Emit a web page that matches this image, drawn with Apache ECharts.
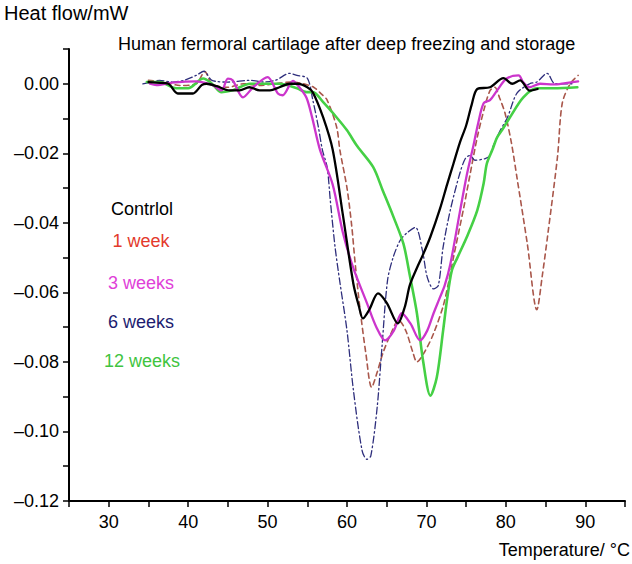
<!DOCTYPE html>
<html>
<head>
<meta charset="utf-8">
<script src="https://cdn.jsdelivr.net/npm/echarts@6/dist/echarts.min.js"></script>
<style>
html,body{margin:0;padding:0;background:#fff;}
#chart{width:632px;height:564px;}
</style>
</head>
<body>
<div id="chart"></div>
<script>
// ---- data (temperature °C / heat flow mW) ----
var controlT = [35, 36, 37.5, 38.7, 40.6, 41.7, 42.3, 43.6, 45.2, 46.5, 47.7, 49, 50.3, 51.5, 52.8, 53.8, 55, 55.7, 57, 58.2, 59.5, 60.8, 61.5, 62, 62.8, 63.9, 65, 66.4, 67.3, 67.9, 68.8, 69.6, 70.5, 71.7, 72.6, 73.4, 74.2, 75, 75.7, 76.4, 78, 79.7, 80.8, 81.8, 83, 84];
var controlH = [0.0005, 0.0003, 0, -0.0028, -0.0028, -0.0004, 0, -0.0007, -0.0019, -0.0019, -0.001, -0.0019, -0.0019, -0.001, 0, 0, -0.001, -0.0025, -0.0097, -0.019, -0.038, -0.0575, -0.064, -0.0675, -0.065, -0.0603, -0.063, -0.0689, -0.064, -0.058, -0.053, -0.049, -0.044, -0.036, -0.029, -0.023, -0.017, -0.012, -0.006, -0.0015, -0.001, 0.0016, 0, 0.001, -0.002, -0.0015];

var week1T = [35, 37, 39, 41, 42.1, 43, 45, 47, 49, 51, 53, 54.5, 55.8, 56.8, 57.5, 58.7, 59.1, 60, 60.6, 61, 61.6, 62.4, 63.1, 63.8, 64.5, 65.5, 66.5, 67.4, 68.3, 68.8, 69.8, 70.9, 72.1, 72.8, 73.4, 74.7, 75.5, 76.4, 77.3, 78.0, 78.6, 79.2, 79.9, 80.7, 81.4, 82.7, 83.9, 84.6, 85.3, 86.5, 87.1, 88.1, 89.1];
var week1H = [0.001, 0.0005, -0.0005, 0, 0.0035, 0, -0.001, 0, -0.0005, 0, 0.0005, 0, -0.001, -0.003, -0.0047, -0.0125, -0.019, -0.030, -0.041, -0.051, -0.064, -0.078, -0.0873, -0.083, -0.0776, -0.072, -0.068, -0.071, -0.0773, -0.080, -0.077, -0.0718, -0.064, -0.057, -0.050, -0.0356, -0.026, -0.0154, -0.007, -0.002, -0.001, -0.004, -0.0085, -0.017, -0.027, -0.046, -0.065, -0.055, -0.043, -0.021, -0.0056, 0, 0.0024];

var week3T = [35.2, 36, 38, 41, 42, 43.1, 44.2, 45, 45.6, 46.9, 48.2, 50, 51.3, 51.9, 53.2, 54, 54.9, 55.6, 56.6, 58.2, 59.5, 60.8, 62.5, 63.7, 64.8, 65.9, 66.9, 68, 69.2, 70.1, 70.9, 71.6, 72.3, 73, 74.2, 75.1, 75.9, 76.5, 77.2, 78, 78.9, 80.1, 81.6, 82.2, 83, 84.3, 86, 87.5, 89.1];
var week3H = [0, -0.0004, 0.0003, 0.0007, 0.0003, -0.0004, -0.0019, 0.0015, 0.0010, -0.0039, -0.001, 0.0019, -0.0028, -0.0033, 0.0008, -0.001, -0.004, -0.0096, -0.019, -0.029, -0.043, -0.053, -0.063, -0.070, -0.0738, -0.071, -0.066, -0.069, -0.0738, -0.071, -0.066, -0.062, -0.058, -0.052, -0.037, -0.026, -0.018, -0.0115, -0.0056, -0.0047, -0.0019, 0.0015, 0.0024, 0.0004, -0.001, 0, -0.0002, 0.0002, 0.0007];

var week6T = [34.3, 35.5, 36.4, 38, 39.5, 41, 42, 43, 45, 47.9, 49.5, 51, 52.8, 53.7, 55, 55.7, 56.4, 56.9, 57.5, 57.9, 58.5, 59.1, 60, 60.8, 61.9, 62.5, 63, 63.8, 64.4, 65.1, 65.8, 66.7, 67.5, 68.6, 69.5, 70.1, 70.9, 71.5, 72.1, 73, 74.2, 74.9, 75.5, 76.1, 77.4, 78, 78.4, 79.3, 80.2, 81.4, 83, 83.9, 85.2, 86.2, 88.4];
var week6H = [0, 0.0005, 0.001, 0.0005, 0.001, 0.0024, 0.0036, 0.001, 0.0005, 0.001, 0.0005, 0.001, 0.003, 0.0024, 0.0016, -0.0047, -0.0125, -0.019, -0.024, -0.0336, -0.047, -0.057, -0.071, -0.088, -0.1055, -0.108, -0.107, -0.093, -0.0758, -0.0566, -0.050, -0.045, -0.043, -0.0413, -0.048, -0.0556, -0.059, -0.058, -0.047, -0.0364, -0.0258, -0.0215, -0.0206, -0.022, -0.0215, -0.0206, -0.018, -0.0134, -0.0097, -0.0027, 0, 0.0005, 0.003, 0, 0];

var week12T = [34.8, 36.4, 38.5, 40, 41.9, 43, 44.2, 45.6, 47.8, 49.5, 51.5, 53.7, 54.9, 55.7, 57, 58.7, 60, 61.3, 63.3, 64.5, 65.8, 67.1, 67.9, 68.8, 69.6, 70.5, 71.3, 72.1, 72.6, 73.2, 73.9, 75.1, 76.4, 77.2, 77.6, 78.3, 78.9, 79.5, 80.5, 82.2, 83.9, 86, 89];
var week12H = [0.0005, 0.0005, -0.0013, -0.0013, 0.0015, 0, -0.0024, -0.0019, 0, 0, 0, -0.0013, -0.0024, -0.0024, -0.0053, -0.0097, -0.0134, -0.018, -0.024, -0.0307, -0.038, -0.046, -0.055, -0.066, -0.080, -0.0897, -0.0845, -0.071, -0.062, -0.0537, -0.050, -0.044, -0.0364, -0.0287, -0.023, -0.019, -0.0154, -0.0134, -0.0097, -0.0039, -0.0013, -0.0013, -0.001];

var seriesNames = ['Contrlol', '1 week', '3 weeks', '6 weeks', '12 weeks'];
var xTickLabels = [30, 40, 50, 60, 70, 80, 90];
var yTickLabels = [0, -0.02, -0.04, -0.06, -0.08, -0.10, -0.12];

function pairs(t, h) { return t.map(function (v, i) { return [v, h[i]]; }); }

var FONT = '"Liberation Sans", Arial, Helvetica, sans-serif';
var chart = echarts.init(document.getElementById('chart'), null, { renderer: 'svg' });

function lineSeries(name, t, h, color, width, dash) {
  return {
    name: name, type: 'line', data: pairs(t, h),
    showSymbol: false, smooth: 0.3,
    lineStyle: { color: color, width: width, type: dash || 'solid', cap: 'round', join: 'round' },
    itemStyle: { color: color },
    animation: false
  };
}

var legendItems = [
  { text: seriesNames[0], color: '#000000', x: 142, y: 209 },
  { text: seriesNames[1], color: '#e33a2c', x: 141, y: 241 },
  { text: seriesNames[2], color: '#e040d8', x: 141, y: 283 },
  { text: seriesNames[3], color: '#1c1c70', x: 141, y: 322 },
  { text: seriesNames[4], color: '#3fc43f', x: 142, y: 361 }
];

var option = {
  backgroundColor: '#ffffff',
  animation: false,
  grid: { left: 69, right: 7, top: 49, bottom: 63, containLabel: false },
  xAxis: {
    type: 'value', min: 25, max: 95, interval: 5,
    axisLine: { show: true, onZero: false, lineStyle: { color: '#000', width: 2 } },
    axisTick: { show: true, length: 6, lineStyle: { color: '#000', width: 1.5 } },
    splitLine: { show: false },
    axisLabel: {
      color: '#000', fontSize: 18, fontFamily: FONT, margin: 12,
      formatter: function (v) { return xTickLabels.indexOf(v) >= 0 ? String(v) : ''; }
    }
  },
  yAxis: {
    type: 'value', min: -0.12, max: 0.01, interval: 0.01,
    axisLine: { show: true, onZero: false, lineStyle: { color: '#000', width: 2 } },
    axisTick: { show: true, length: 6, lineStyle: { color: '#000', width: 1.5 } },
    splitLine: { show: false },
    axisLabel: {
      color: '#000', fontSize: 18, fontFamily: FONT, margin: 10,
      formatter: function (v) {
        var k = Math.round(v * 100);
        var ok = yTickLabels.some(function (t) { return Math.round(t * 100) === k; });
        if (!ok) return '';
        if (k === 0) return '0.00';
        return '\u2013' + Math.abs(k / 100).toFixed(2);
      }
    }
  },
  graphic: [
    { type: 'text', left: 4, top: 3, style: { text: 'Heat flow/mW', fill: '#000', font: '20px ' + FONT } },
    { type: 'text', left: 118, top: 35, style: { text: 'Human fermoral cartilage after deep freezing and storage', fill: '#000', font: '18px ' + FONT } },
    { type: 'text', right: 2, top: 541, style: { text: 'Temperature/ \u00B0C', fill: '#000', font: '18px ' + FONT } }
  ].concat(legendItems.map(function (it) {
    return { type: 'text', x: it.x, y: it.y, style: { text: it.text, fill: it.color, font: '18px ' + FONT, textAlign: 'center', textVerticalAlign: 'middle' } };
  })),
  series: [
    lineSeries(seriesNames[1], week1T, week1H, '#a9574b', 1.6, [5, 4]),
    lineSeries(seriesNames[3], week6T, week6H, '#2e2e7c', 1.3, [7, 3, 1.5, 3]),
    lineSeries(seriesNames[4], week12T, week12H, '#45d045', 2.6),
    lineSeries(seriesNames[2], week3T, week3H, '#cc35cc', 2.3),
    lineSeries(seriesNames[0], controlT, controlH, '#000000', 2.3)
  ]
};
chart.setOption(option);
</script>
</body>
</html>
